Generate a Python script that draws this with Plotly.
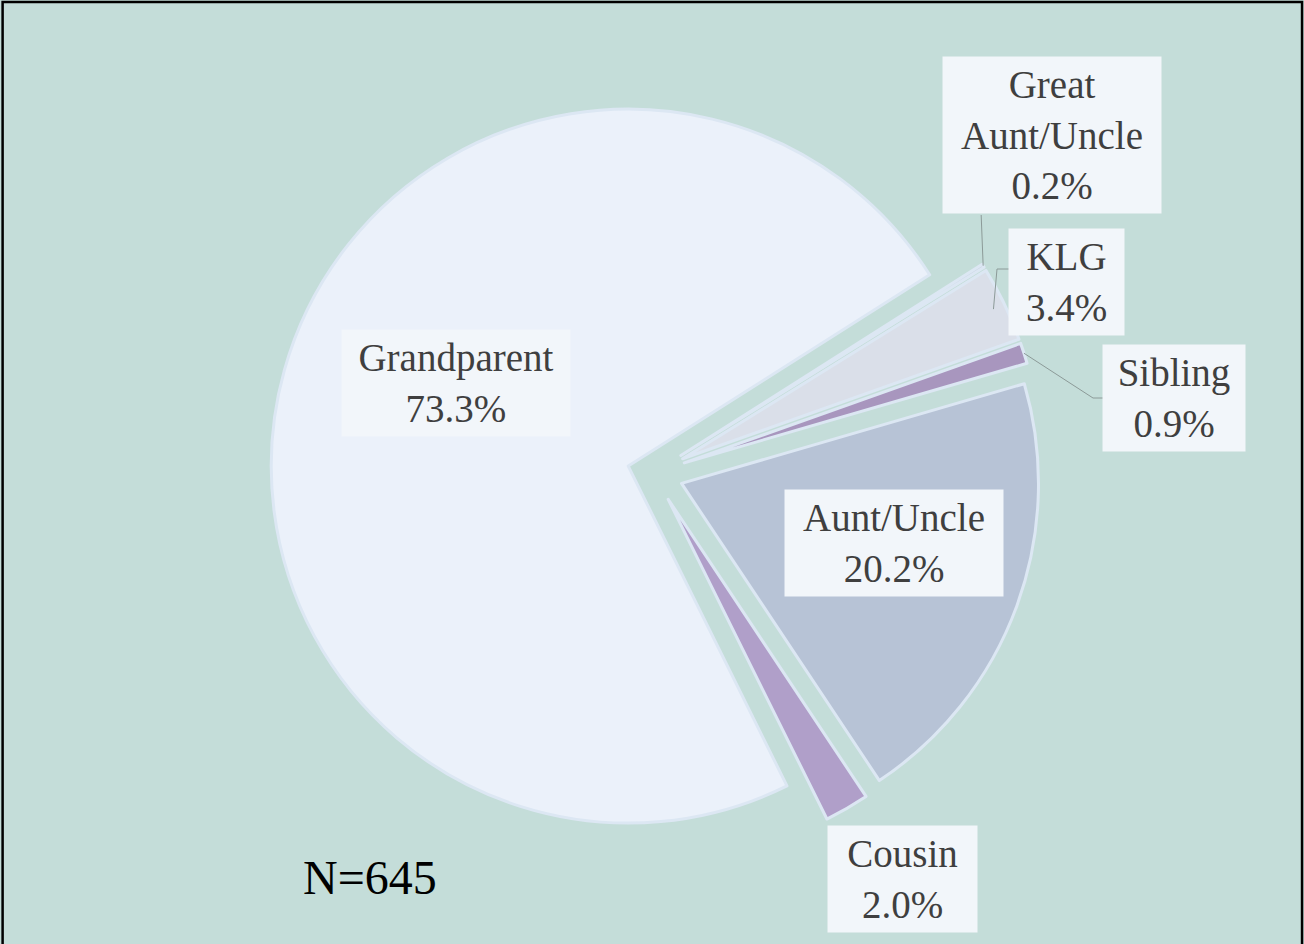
import math
import plotly.graph_objects as go

# relationship of caregiver, counts out of N=645
labels = ["Great Aunt/Uncle", "KLG", "Sibling", "Aunt/Uncle", "Cousin", "Grandparent"]
counts = [1, 22, 6, 130, 13, 473]
colors = ["#CBD4E4", "#DADFE9", "#A896BE", "#B7C3D6", "#B09FC9", "#EBF1FA"]
pulls = [0.092, 0.092, 0.092, 0.085, 0.085, 0.072]

W, H = 1304, 944
CX, CY, R = 653, 473, 357       # pie centre / radius in pixels
ROT = 57.6                       # first slice starts here (deg clockwise from 12)
BG = "#C4DDD9"

total = sum(counts)
pcts = [100 * c / total for c in counts]

# label placement: (angle deg clockwise from top, distance in radii from centre, box width)
label_pos = [(49.7, 1.465, 206), (65.2, 1.277, 103), (81.8, 1.474, 130),
             (106.2, 0.703, 206), (148.4, 1.336, 137), (294.6, 0.607, 216)]


def px(angle, dist):
    a = math.radians(angle)
    return CX + dist * math.sin(a), CY - dist * math.cos(a)


def paper(x, y):
    return x / W, 1 - y / H


half = R * (1 + max(pulls))
fig = go.Figure(go.Pie(
    labels=labels,
    values=counts,
    sort=False,
    direction="clockwise",
    rotation=ROT,
    pull=pulls,
    marker=dict(colors=colors, line=dict(color="#DCE7F3", width=3)),
    textinfo="none",
    hoverinfo="skip",
    showlegend=False,
    domain=dict(x=[(CX - half) / W, (CX + half) / W],
                y=[1 - (CY + half) / H, 1 - (CY - half) / H]),
))

# slice mid angles, used for leader lines
mids = []
acc = 0
for c in counts:
    mids.append(ROT + 360 * (acc + c / 2) / total)
    acc += c

annotations = []
for lab, p, (ang, d, w) in zip(labels, pcts, label_pos):
    x, y = paper(*px(ang, d * R))
    annotations.append(dict(
        x=x, y=y, xref="paper", yref="paper", showarrow=False,
        xanchor="center", yanchor="middle", width=w,
        text=f"{lab.replace(' ', '<br>')}<br>{p:.1f}%",
        font=dict(family="Liberation Serif", size=39, color="#3F3F3F"),
        bgcolor="#F2F6FA", borderpad=6, align="center",
    ))

annotations.append(dict(
    x=370 / W, y=1 - 877 / H, xref="paper", yref="paper", showarrow=False,
    xanchor="center", yanchor="middle",
    text="N=645", font=dict(family="Liberation Serif", size=48, color="black"),
))

# leader lines for small outside slices
shapes = []


def leader(points):
    path = "M " + " L ".join(f"{paper(x, y)[0]},{paper(x, y)[1]}" for x, y in points)
    shapes.append(dict(type="path", path=path, xref="paper", yref="paper",
                       line=dict(color="#8C9A98", width=1)))


ga = px(mids[0], R * (1 + pulls[0]))
leader([ga, (ga[0] - 2, 215)])
klg = px(mids[1], R * (1 + pulls[1]) - 12)
leader([klg, (997, 269), (1010, 269)])
sib = px(mids[2], R * (1 + pulls[2]))
leader([sib, (1093, 398), (1103, 398)])

shapes.append(dict(type="rect", xref="paper", yref="paper",
                   x0=0.002, x1=0.9985, y0=-0.01, y1=0.998,
                   line=dict(color="black", width=2.5)))

fig.update_layout(
    width=W, height=H,
    margin=dict(l=0, r=0, t=0, b=0),
    paper_bgcolor=BG, plot_bgcolor=BG,
    annotations=annotations,
    shapes=shapes,
)

fig.write_html("out.html", config={"displayModeBar": False},
               post_script="document.body.style.margin='0';")
